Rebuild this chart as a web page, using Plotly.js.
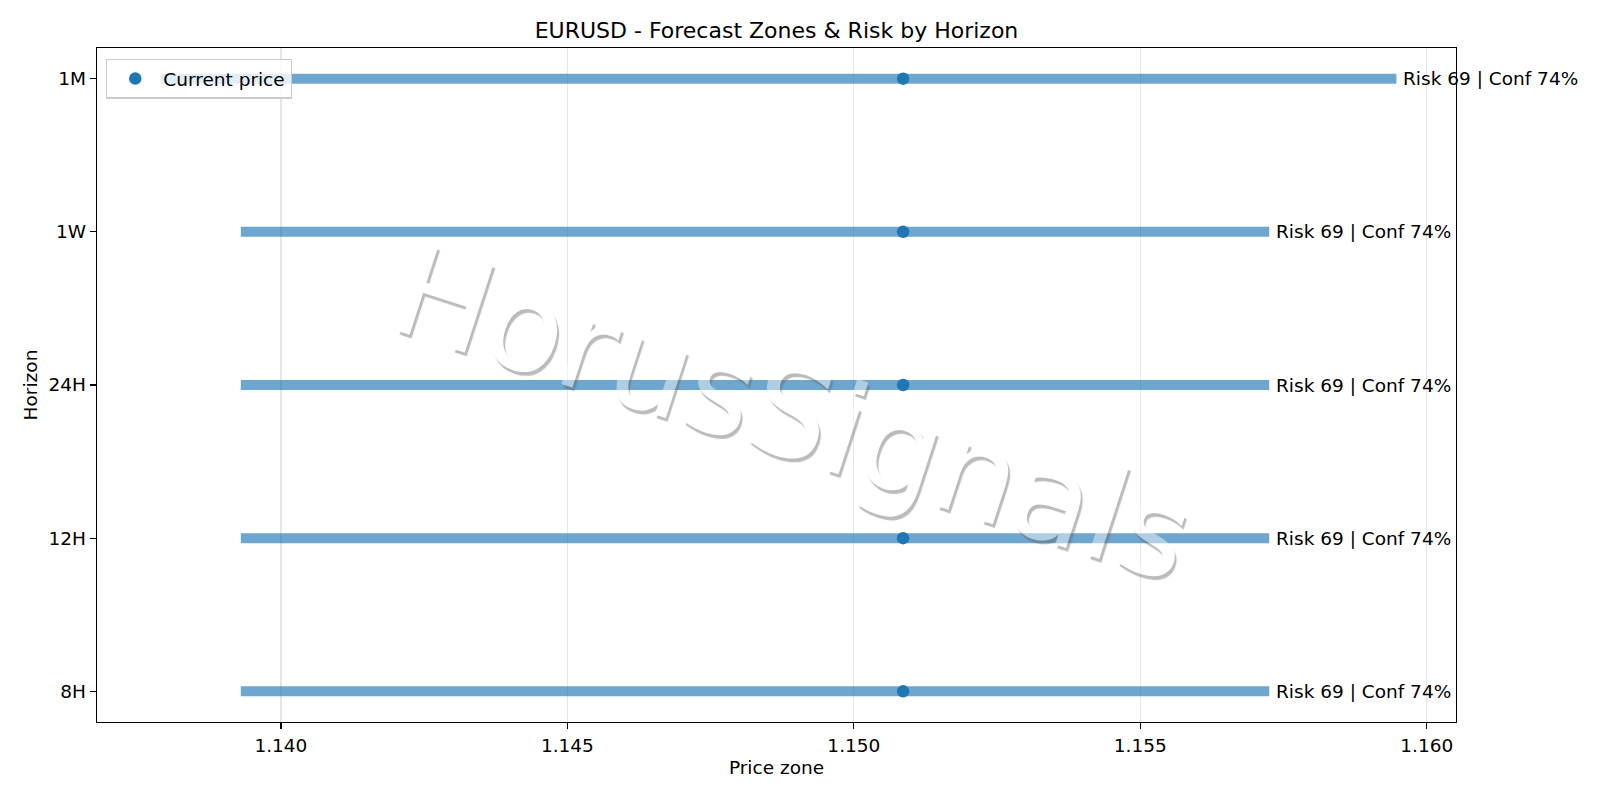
<!DOCTYPE html>
<html>
<head>
<meta charset="utf-8">
<script src="https://cdn.plot.ly/plotly-3.0.1.min.js"></script>
<style>html,body{margin:0;padding:0;background:#fff;}#chart{width:1600px;height:800px;}</style>
</head>
<body>
<div id="chart"></div>
<script>
// ---- data ----
const horizons = ['8H', '12H', '24H', '1W', '1M'];
const zoneLow = [1.1393, 1.1393, 1.1393, 1.1393, 1.1379];
const zoneHigh = [1.15725, 1.15725, 1.15725, 1.15725, 1.15947];
const currentPrice = [1.15086, 1.15086, 1.15086, 1.15086, 1.15086];
const riskScore = [69, 69, 69, 69, 69];
const confidence = [74, 74, 74, 74, 74];
const xTickVals = [1.140, 1.145, 1.150, 1.155, 1.160];
const xTickText = ['1.140', '1.145', '1.150', '1.155', '1.160'];

const FONT = 'DejaVu Sans, Liberation Sans, sans-serif';
const BLUE = '#1f77b4';
const FS = 18.5;

// zone bars: one line segment per horizon, separated by gaps
const barX = [], barY = [];
horizons.forEach((h, i) => {
  barX.push(zoneLow[i], zoneHigh[i], null);
  barY.push(h, h, null);
});

const traces = [
  {
    type: 'scatter', mode: 'lines', x: barX, y: barY,
    line: {color: 'rgba(31,119,180,0.65)', width: 10},
    showlegend: false, hoverinfo: 'skip', connectgaps: false
  },
  {
    type: 'scatter', mode: 'markers', x: currentPrice, y: horizons,
    name: 'Current price',
    marker: {color: BLUE, size: 12.5}
  }
];

const annotations = horizons.map((h, i) => ({
  x: zoneHigh[i], y: h, xref: 'x', yref: 'y',
  text: 'Risk ' + riskScore[i] + ' | Conf ' + confidence[i] + '%',
  showarrow: false, xanchor: 'left', yanchor: 'middle', xshift: 5,
  font: {family: FONT, size: FS, color: '#000'}
}));

// watermark
annotations.push({
  xref: 'paper', yref: 'paper', x: 0.512, y: 0.458,
  text: 'HorusSignals', showarrow: false, textangle: 18,
  xanchor: 'center', yanchor: 'middle', opacity: 0.45,
  font: {family: FONT, size: 127, color: '#ffffff', shadow: '3px 3px 1px #6a6a6a'}
});

const layout = {
  width: 1600, height: 800,
  margin: {l: 97, r: 144, t: 48, b: 78, pad: 0},
  paper_bgcolor: '#fff', plot_bgcolor: '#fff',
  font: {family: FONT, size: FS, color: '#000'},
  title: {
    text: 'EURUSD - Forecast Zones & Risk by Horizon',
    font: {family: FONT, size: 22, color: '#000'},
    x: 0.5, xref: 'paper', xanchor: 'center',
    y: 1 - 30.5 / 800, yref: 'container', yanchor: 'middle'
  },
  xaxis: {
    range: [1.13679, 1.16051],
    tickvals: xTickVals, ticktext: xTickText,
    ticks: 'outside', ticklen: 6, tickwidth: 1.2, tickcolor: '#000',
    showgrid: true, gridcolor: '#e6e6e6', gridwidth: 1.2,
    zeroline: false,
    showline: true, mirror: true, linecolor: '#000', linewidth: 1.3,
    tickfont: {family: FONT, size: FS, color: '#000'},
    title: {text: 'Price zone', font: {family: FONT, size: FS, color: '#000'}, standoff: 6},
    automargin: false
  },
  yaxis: {
    type: 'category', categoryorder: 'array', categoryarray: horizons,
    range: [-0.2, 4.2],
    ticks: 'outside', ticklen: 6, tickwidth: 1.2, tickcolor: '#000',
    showgrid: false, zeroline: false,
    showline: true, mirror: true, linecolor: '#000', linewidth: 1.3,
    tickfont: {family: FONT, size: FS, color: '#000'},
    title: {text: 'Horizon', font: {family: FONT, size: FS, color: '#000'}, standoff: 6},
    automargin: false
  },
  showlegend: true,
  legend: {
    x: 0.0066, y: 0.984, xanchor: 'left', yanchor: 'top',
    xref: 'paper', yref: 'paper', itemwidth: 46,
    bgcolor: 'rgba(255,255,255,0.8)', bordercolor: '#cccccc', borderwidth: 1.3,
    font: {family: FONT, size: FS, color: '#000'}
  },
  annotations: annotations
};

Plotly.newPlot('chart', traces, layout, {displayModeBar: false, staticPlot: true});
</script>
</body>
</html>
